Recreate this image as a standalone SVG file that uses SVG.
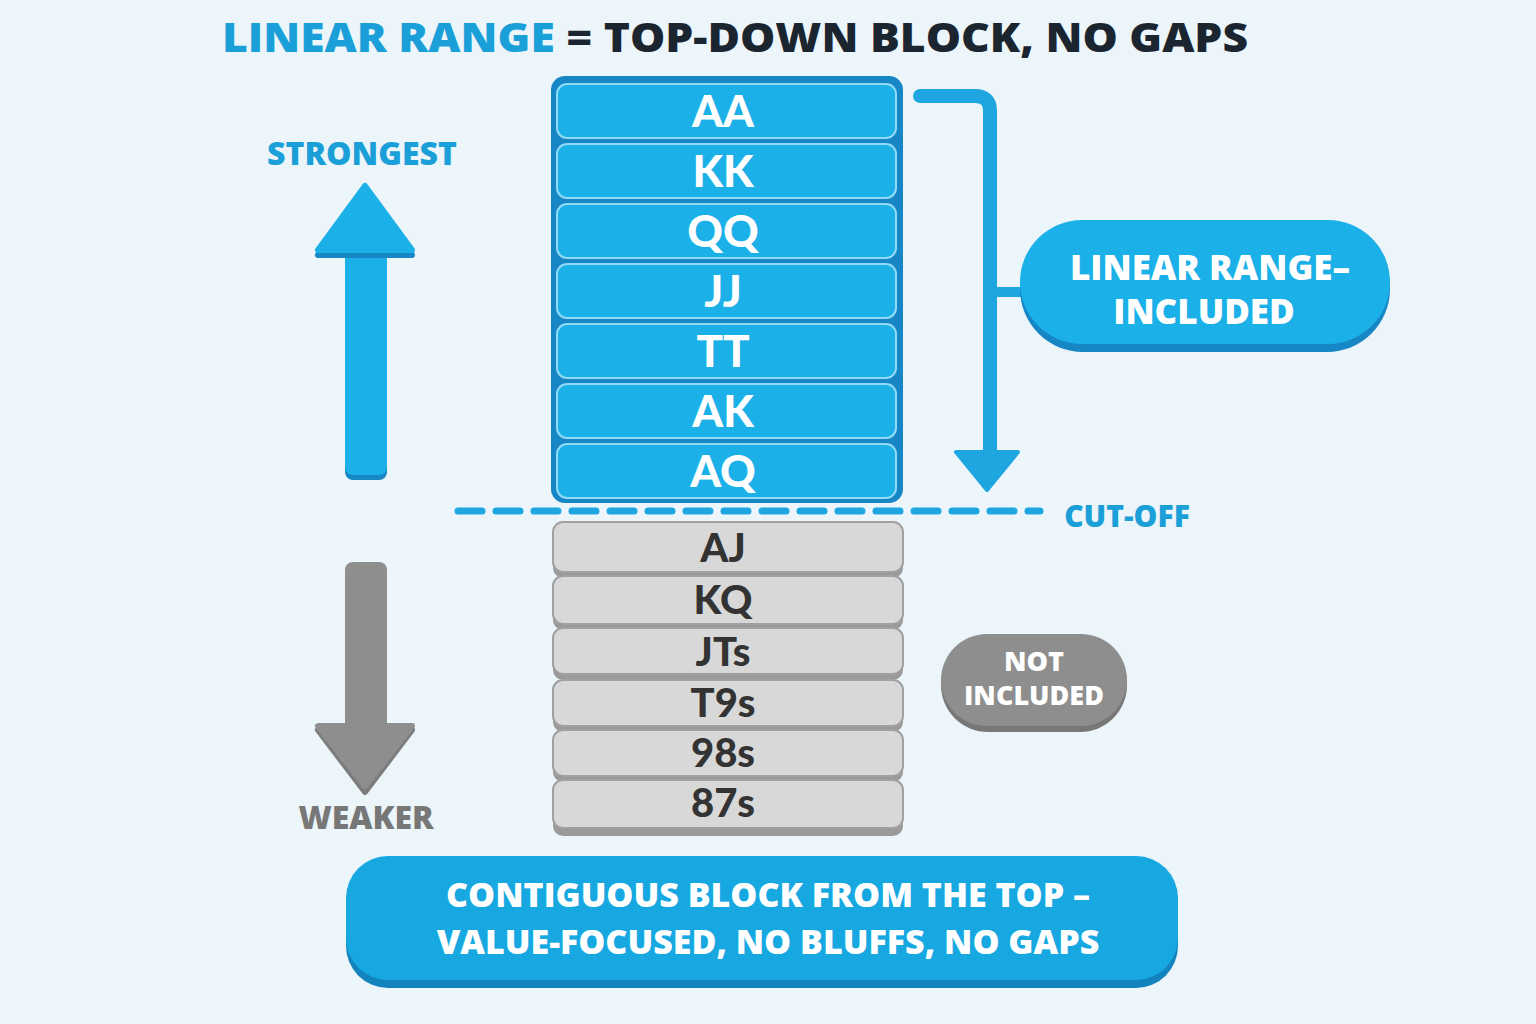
<svg xmlns="http://www.w3.org/2000/svg" width="1536" height="1024" viewBox="0 0 1536 1024">
<defs>
<style>
text{font-family:"Open Sans","Liberation Sans",sans-serif;font-weight:800;text-anchor:middle}
.b{fill:#1cb0e8;stroke:#8fdaf7;stroke-width:2}
.g{fill:#d8d8d8;stroke:#a0a0a0;stroke-width:2}
.bt{fill:#fff;font-size:44px;font-family:Lato,"Liberation Sans",sans-serif;font-weight:900}
.gt{fill:#333;font-size:40px;font-family:Lato,"Liberation Sans",sans-serif;font-weight:900}
.w{fill:#fff}
</style>
</defs>
<rect width="1536" height="1024" fill="#ebf5fa"/>
<g id="title"><text x="735" y="52" font-size="40" textLength="1026" lengthAdjust="spacingAndGlyphs"><tspan fill="#1a9fd8">LINEAR RANGE</tspan><tspan fill="#1a2530"> = TOP-DOWN BLOCK, NO GAPS</tspan></text></g>
<g id="included-stack">
<rect x="551" y="76" width="352" height="427" rx="14" fill="#1786c4"/>
<rect x="557" y="84" width="339" height="54" rx="10" class="b"/><text x="723" y="127" class="bt">AA</text>
<rect x="557" y="144" width="339" height="54" rx="10" class="b"/><text x="723" y="187" class="bt">KK</text>
<rect x="557" y="204" width="339" height="54" rx="10" class="b"/><text x="723" y="247" class="bt">QQ</text>
<rect x="557" y="264" width="339" height="54" rx="10" class="b"/><text x="723" y="307" class="bt">JJ</text>
<rect x="557" y="324" width="339" height="54" rx="10" class="b"/><text x="723" y="367" class="bt">TT</text>
<rect x="557" y="384" width="339" height="54" rx="10" class="b"/><text x="723" y="427" class="bt">AK</text>
<rect x="557" y="444" width="339" height="54" rx="10" class="b"/><text x="723" y="487" class="bt">AQ</text>
</g>
<g id="excluded-stack">
<rect x="553" y="524" width="350" height="54" rx="10" fill="#9a9a9a"/><rect x="553" y="522" width="350" height="50" rx="10" class="g"/><text x="723" y="562" class="gt">AJ</text>
<rect x="553" y="576" width="350" height="54" rx="10" fill="#9a9a9a"/><rect x="553" y="576" width="350" height="48" rx="10" class="g"/><text x="723" y="614" class="gt">KQ</text>
<rect x="553" y="628" width="350" height="52" rx="10" fill="#9a9a9a"/><rect x="553" y="628" width="350" height="46" rx="10" class="g"/><text x="723" y="666" class="gt">JTs</text>
<rect x="553" y="680" width="350" height="52" rx="10" fill="#9a9a9a"/><rect x="553" y="680" width="350" height="46" rx="10" class="g"/><text x="723" y="717" class="gt">T9s</text>
<rect x="553" y="730" width="350" height="52" rx="10" fill="#9a9a9a"/><rect x="553" y="730" width="350" height="46" rx="10" class="g"/><text x="723" y="767" class="gt">98s</text>
<rect x="553" y="780" width="350" height="56" rx="10" fill="#9a9a9a"/><rect x="553" y="780" width="350" height="48" rx="10" class="g"/><text x="723" y="817" class="gt">87s</text>
</g>
<g id="connectors">
<line x1="458" y1="511" x2="1040" y2="511" stroke="#1ea6e0" stroke-width="7" stroke-dasharray="24 14" stroke-linecap="round"/>
<path d="M920 96 H975 Q990 96 990 111 V458" fill="none" stroke="#1ea6e0" stroke-width="14" stroke-linecap="round"/>
<line x1="990" y1="292" x2="1024" y2="292" stroke="#1ea6e0" stroke-width="10"/>
<polygon points="956,452 1018,452 987,490" fill="#1ea6e0" stroke="#1ea6e0" stroke-width="4" stroke-linejoin="round"/>
</g>
<g id="cutoff"><text x="1127" y="527" font-size="30" fill="#1a9fd8">CUT-OFF</text></g>
<g id="strongest">
<rect x="345" y="238" width="42" height="242" rx="8" fill="#1786c4"/>
<rect x="345" y="235" width="42" height="240" rx="8" fill="#1cb0e8"/>
<polygon points="318,255 412,255 365,190" fill="#1786c4" stroke="#1786c4" stroke-width="6" stroke-linejoin="round"/>
<polygon points="318,250 412,250 365,186" fill="#1cb0e8" stroke="#1cb0e8" stroke-width="6" stroke-linejoin="round"/>
<text x="362" y="165" font-size="32" fill="#1a9fd8">STRONGEST</text>
</g>
<g id="weaker">
<rect x="345" y="562" width="42" height="175" rx="8" fill="#8e8e8e"/>
<polygon points="318,730 412,730 365,792" fill="#7d7d7d" stroke="#7d7d7d" stroke-width="6" stroke-linejoin="round"/>
<polygon points="318,726 412,726 365,786" fill="#8e8e8e" stroke="#8e8e8e" stroke-width="6" stroke-linejoin="round"/>
<text x="366" y="829" font-size="32" fill="#777">WEAKER</text>
</g>
<g id="included-label">
<rect x="1020" y="226" width="370" height="126" rx="63" fill="#1786c4"/>
<rect x="1020" y="220" width="370" height="124" rx="62" fill="#1cb0e8"/>
<text x="1210" y="280" font-size="35" class="w">LINEAR RANGE–</text>
<text x="1204" y="324" font-size="35" class="w">INCLUDED</text>
</g>
<g id="not-included">
<rect x="941" y="638" width="186" height="94" rx="47" fill="#777"/>
<rect x="941" y="634" width="186" height="92" rx="46" fill="#8e8e8e"/>
<text x="1034" y="671" font-size="27" class="w">NOT</text>
<text x="1034" y="705" font-size="27" class="w">INCLUDED</text>
</g>
<g id="summary">
<rect x="346" y="862" width="832" height="126" rx="42" fill="#1283bd"/>
<rect x="346" y="856" width="832" height="124" rx="42" fill="#17a8e2"/>
<text x="768" y="907" font-size="34" class="w">CONTIGUOUS BLOCK FROM THE TOP –</text>
<text x="768" y="954" font-size="34" class="w">VALUE-FOCUSED, NO BLUFFS, NO GAPS</text>
</g>
</svg>
